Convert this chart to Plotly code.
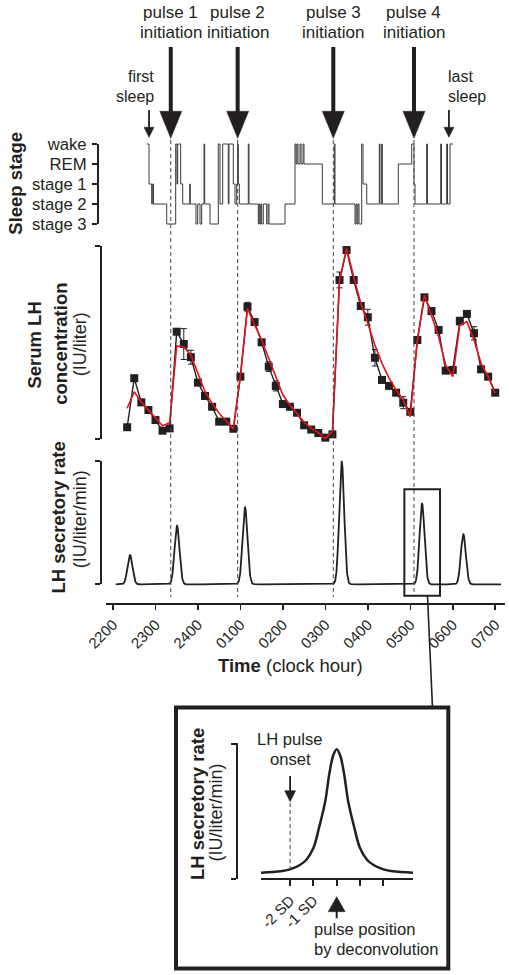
import numpy as np
import plotly.graph_objects as go

W, H = 509, 975
FONT = "Liberation Sans, Arial, Helvetica, sans-serif"
INK = "#231f20"

# ---------------- data ----------------
hour_ticks = [22, 23, 24, 25, 26, 27, 28, 29, 30, 31]
hour_labels = ["2200", "2300", "2400", "0100", "0200", "0300", "0400", "0500", "0600", "0700"]

stage_codes = [0, 1, 2, 3, 4]
stage_labels = ["stage 3", "stage 2", "stage 1", "REM", "wake"]

# hypnogram: clock hour (24+ = after midnight) at which each stage begins
sleep_time = [22.794, 22.848, 22.911, 22.935, 22.954, 23.264, 23.476, 23.506, 23.523, 23.594,
              23.641, 23.806, 23.820, 23.954, 23.994, 24.049, 24.089, 24.143, 24.159, 24.284,
              24.479, 24.519, 24.583, 24.715, 24.731, 24.833, 24.873, 24.913, 24.936, 24.950,
              24.974, 25.186, 25.202, 25.421, 25.440, 25.460, 25.480, 25.500, 25.539, 25.619,
              25.650, 25.673, 26.050, 26.285, 26.309, 26.332, 26.356, 26.403, 26.427, 26.474,
              26.497, 26.928, 27.211, 27.227, 27.698, 27.722, 27.746, 27.769, 27.793, 27.856,
              27.887, 27.974, 28.270, 28.287, 28.327, 28.341, 28.718, 29.033, 29.087, 29.111,
              29.386, 29.405, 29.716, 29.735, 29.857, 29.876, 29.935, 30.006]
sleep_stage = [4, 2, 1, 2, 1, 0, 4, 2, 4, 2,
               1, 2, 1, 0, 1, 0, 1, 4, 1, 0,
               4, 1, 4, 1, 4, 2, 1, 2, 4, 2,
               1, 4, 1, 0, 1, 0, 1, 0, 1, 0,
               1, 0, 1, 4, 3, 4, 3, 4, 3, 4,
               3, 1, 4, 1, 0, 1, 0, 1, 0, 4,
               2, 1, 4, 1, 4, 1, 3, 4, 2, 1,
               4, 1, 4, 1, 4, 1, 4, 4]

# serum LH samples: minutes after 2200
sample_min = [20, 30, 40, 50, 60, 70, 80, 90, 100, 110, 120, 130, 140, 150, 160, 170, 180,
              190, 200, 210, 220, 230, 240, 250, 260, 270, 280, 290, 300, 310, 320, 330, 340,
              350, 360, 370, 380, 390, 400, 410, 420, 430, 440, 450, 460, 470, 480, 490, 500,
              510, 520, 530, 540]
lh_conc = [0.61, 3.15, 1.90, 1.50, 0.98, 0.43, 0.55, 5.56, 4.92, 4.24,
           2.92, 2.23, 1.67, 0.90, 0.90, 0.53, 3.23, 6.85, 6.06, 5.01,
           3.75, 2.75, 1.81, 1.67, 1.36, 0.71, 0.49, 0.31, 0.07, 0.24,
           8.24, 9.79, 8.24, 6.89, 6.31, 4.21, 3.06, 2.75, 2.40, 1.88,
           1.41, 5.13, 7.34, 6.63, 5.65, 3.54, 3.58, 6.11, 6.48, 5.48,
           3.61, 3.23, 2.40]
lh_err = [0, 0, 0, 0, 0, 0, 0, 0, 0.8, 0.36,
          0, 0, 0, 0, 0, 0, 0, 0.23, 0, 0,
          0.25, 0.26, 0, 0, 0, 0, 0, 0, 0, 0,
          0.41, 0, 0, 0, 0.41, 0.43, 0, 0, 0, 0.31,
          0, 0, 0, 0, 0, 0, 0, 0.2, 0.15, 0.34,
          0, 0, 0]
lh_fit = [1.59, 2.45, 1.92, 1.50, 1.07, 0.69, 0.84, 4.82, 4.78, 4.35,
          3.40, 2.45, 1.85, 1.33, 0.93, 0.52, 3.30, 6.77, 5.91, 5.13,
          4.18, 3.23, 2.28, 1.76, 1.33, 0.87, 0.55, 0.33, 0.02, 0.38,
          8.20, 9.88, 8.41, 7.03, 5.99, 4.87, 3.92, 3.15, 2.54, 2.02,
          1.16, 5.13, 7.46, 6.42, 5.30, 3.83, 3.23, 5.91, 6.08, 5.13,
          3.92, 3.23, 2.37]

# deconvolved secretory pulses
sec_peak_time = [22.40, 23.507, 25.108, 27.385, 29.276, 30.249]
sec_peak_amp = [2.37, 4.74, 6.23, 9.92, 6.55, 4.05]
sec_peak_sd = [0.058, 0.058, 0.058, 0.058, 0.058, 0.058]
sec_span = [22.064, 31.136]

pulse_onset = [23.36, 24.935, 27.187, 29.087]
pulse_names = ["pulse 1", "pulse 2", "pulse 3", "pulse 4"]
first_sleep, last_sleep = 22.848, 29.91
zoom_window = [28.86, 29.70]

# inset: schematic pulse (x in SD units)
inset_u = [-3.3, -2.4, -2.0, -1.6, -1.3, -1.0, -0.75, -0.5, -0.3, -0.15, 0,
           0.15, 0.3, 0.5, 0.75, 1.0, 1.3, 1.6, 2.0, 2.4, 3.3]
inset_rate = [0, 0.011, 0.027, 0.06, 0.105, 0.2, 0.37, 0.57, 0.82, 0.95, 1.0,
              0.95, 0.82, 0.57, 0.37, 0.2, 0.105, 0.06, 0.027, 0.011, 0]
inset_ticks = [-2, -1, 0, 1, 2]
inset_tick_labels = ["-2 SD", "-1 SD", "", "", ""]

# ---------------- geometry helpers ----------------
def pyy(y):
    return 1 - y / H

def pxx(x):
    return x / W

def dom(top, bottom):
    return [1 - bottom / H, 1 - top / H]

X_DOM = (106, 505)
X_RNG = (21.835, 31.230)
PXH = (X_DOM[1] - X_DOM[0]) / (X_RNG[1] - X_RNG[0])
IX_DOM = (261, 413)
IX_PX = 23.3
IX_RNG = ((261 - 336.7) / IX_PX, (413 - 336.7) / IX_PX)

fig = go.Figure()

# hypnogram
fig.add_trace(go.Scatter(x=sleep_time, y=sleep_stage, mode="lines",
                         line=dict(color="#3a3a3a", width=1, shape="hv"),
                         xaxis="x", yaxis="y2", hoverinfo="skip", showlegend=False))
# LH concentration
lh_time = [22 + m / 60 for m in sample_min]
fig.add_trace(go.Scatter(x=lh_time, y=lh_conc, mode="lines+markers",
                         line=dict(color=INK, width=1.4),
                         marker=dict(symbol="square", size=8, color=INK),
                         error_y=dict(type="data", array=lh_err, color=INK, thickness=1, width=3),
                         xaxis="x", yaxis="y4", cliponaxis=False, hoverinfo="skip", showlegend=False))
fig.add_trace(go.Scatter(x=lh_time, y=lh_fit, mode="lines",
                         line=dict(color="#e3141b", width=1.6),
                         xaxis="x", yaxis="y4", hoverinfo="skip", showlegend=False))
# secretory rate
t = np.linspace(sec_span[0], sec_span[1], 2000)
rate = np.zeros_like(t)
for c, a, s in zip(sec_peak_time, sec_peak_amp, sec_peak_sd):
    rate += a * np.exp(-0.5 * ((t - c) / s) ** 2)
fig.add_trace(go.Scatter(x=t, y=rate, mode="lines", line=dict(color=INK, width=1.8),
                         xaxis="x", yaxis="y6", hoverinfo="skip", showlegend=False))
# inset curve
fig.add_trace(go.Scatter(x=inset_u, y=inset_rate, mode="lines",
                         line=dict(color=INK, width=2.5, shape="spline", smoothing=1.0),
                         xaxis="x2", yaxis="y8", hoverinfo="skip", showlegend=False))
# invisible anchors for bracket axes
for xa, ya in [("x", "y"), ("x", "y3"), ("x", "y5"), ("x2", "y7")]:
    fig.add_trace(go.Scatter(x=[X_RNG[0] + 0.5 if xa == "x" else 0], y=[0], mode="markers",
                             marker=dict(size=1, opacity=0), xaxis=xa, yaxis=ya,
                             hoverinfo="skip", showlegend=False))

bracket = dict(anchor="free", showline=True, linecolor=INK, linewidth=2, ticks="outside",
               ticklen=5, tickwidth=2, tickcolor=INK, showgrid=False, zeroline=False,
               fixedrange=True, automargin=False)
hidden = dict(visible=False, showgrid=False, zeroline=False, fixedrange=True, automargin=False)

layout = dict(
    template="none",
    width=W, height=H, autosize=False,
    margin=dict(l=0, r=0, t=0, b=0, pad=0),
    paper_bgcolor="white", plot_bgcolor="rgba(0,0,0,0)",
    font=dict(family=FONT, color=INK, size=16.6),
    showlegend=False, hovermode=False,
    xaxis=dict(domain=[pxx(X_DOM[0]), pxx(X_DOM[1])], range=list(X_RNG), anchor="free",
               position=pyy(604), showline=True, linecolor=INK, linewidth=2,
               ticks="outside", ticklen=5, tickwidth=1.5, tickcolor=INK,
               tickvals=hour_ticks, ticktext=hour_labels, tickangle=-45,
               tickfont=dict(size=15, color=INK), showgrid=False, zeroline=False,
               fixedrange=True, automargin=False),
    xaxis2=dict(domain=[pxx(IX_DOM[0]), pxx(IX_DOM[1])], range=list(IX_RNG), anchor="free",
                position=pyy(879), showline=True, linecolor=INK, linewidth=2,
                ticks="outside", ticklen=6, tickwidth=2, tickcolor=INK,
                tickvals=inset_ticks, ticktext=inset_tick_labels, tickangle=-45,
                tickfont=dict(size=15, color=INK), showgrid=False, zeroline=False,
                fixedrange=True, automargin=False),
    yaxis=dict(domain=dom(144, 224), range=[-0.01, 4.01], position=pxx(98),
               tickvals=stage_codes, ticktext=stage_labels,
               tickfont=dict(size=16.7, color=INK), ticklabelstandoff=2, **bracket),
    yaxis2=dict(domain=dom(124, 244), range=[-1, 5], anchor="x", **hidden),
    yaxis3=dict(domain=dom(246, 439), range=[-0.02, 10.02], position=pxx(101),
                tickvals=[0, 10], showticklabels=False, **bracket),
    yaxis4=dict(domain=dom(226, 459), range=[-20 / 19.3, 10 + 20 / 19.3], anchor="x", **hidden),
    yaxis5=dict(domain=dom(460.7, 584.3), range=[-0.02, 10.02], position=pxx(101),
                tickvals=[0, 10], showticklabels=False, **bracket),
    yaxis6=dict(domain=dom(448, 596), range=[-11.7 / 12.36, 10 + 12.7 / 12.36], anchor="x", **hidden),
    yaxis7=dict(domain=dom(743.3, 879), range=[-0.002, 1.002], position=pxx(236.7),
                tickvals=[0, 1], showticklabels=False, **bracket),
    yaxis8=dict(domain=dom(735, 885), range=[-12.3 / 123.4, 1 + 14.3 / 123.4], anchor="x2", **hidden),
)
fig.update_layout(**layout)

# ---------------- shapes ----------------
shapes = []

def line(x0, y0, x1, y1, width, xref="paper", dash=None, color=INK):
    d = dict(type="line", xref=xref, yref="paper", x0=x0, x1=x1, y0=y0, y1=y1,
             line=dict(color=color, width=width))
    if dash:
        d["line"]["dash"] = dash
    shapes.append(d)

def arrow(xc, y_tail, y_tip, head_len, head_w, shaft_w, xref="x", scale=PXH):
    """vertical arrow; y values in pixels, xc in the units of xref"""
    dx = head_w / 2 / scale
    sign = 1 if y_tip > y_tail else -1
    y_base = y_tip - sign * head_len
    line(xc, pyy(y_tail), xc, pyy(y_base + sign * 1), shaft_w, xref=xref)
    shapes.append(dict(type="path", xref=xref, yref="paper",
                       path=f"M {xc - dx},{pyy(y_base)} L {xc + dx},{pyy(y_base)} L {xc},{pyy(y_tip)} Z",
                       fillcolor=INK, line=dict(color=INK, width=0.5)))

for h in pulse_onset:
    line(h, pyy(140), h, pyy(597), 1, xref="x", dash="4px,3px", color="#444444")
    arrow(h, 47, 138.3, 27, 22, 4)

arrow(first_sleep, 110, 137.3, 10, 10, 1.8)
arrow(last_sleep, 110, 137.3, 10, 10, 1.8)

# zoom box around pulse and connector to inset
shapes.append(dict(type="rect", xref="x", yref="paper", x0=zoom_window[0], x1=zoom_window[1],
                   y0=pyy(595.7), y1=pyy(489.3), line=dict(color=INK, width=2)))
line(pxx(427.5), pyy(595.7), pxx(432.5), pyy(708), 1.6)
# inset frame
shapes.append(dict(type="rect", xref="paper", yref="paper", x0=pxx(176), x1=pxx(448.3),
                   y0=pyy(968.5), y1=pyy(707.5), line=dict(color=INK, width=4)))
# inset onset marker and arrows
line(-2, pyy(803), -2, pyy(872), 1, xref="x2", dash="4px,3px", color="#444444")
arrow(-2, 776, 801.7, 11, 11, 1.8, xref="x2", scale=IX_PX)
arrow(0, 918.3, 896.7, 15, 17, 2, xref="x2", scale=IX_PX)

fig.update_layout(shapes=shapes)

# ---------------- text ----------------
anns = []

def text(s, x, y, size=16.6, xanchor="center", angle=0, xref="paper"):
    anns.append(dict(text=s, x=x, y=pyy(y), xref=xref, yref="paper", xanchor=xanchor,
                     yanchor="middle", showarrow=False, textangle=angle,
                     font=dict(family=FONT, size=size, color=INK)))

for h, name in zip(pulse_onset, pulse_names):
    text(name, h, 12.3, size=17, xref="x")
    text("initiation", h, 32.4, size=17, xref="x")

text("first", pxx(155.7), 76.2, size=16, xanchor="right")
text("sleep", pxx(155.7), 96, size=16, xanchor="right")
text("last", pxx(446), 76.2, size=16, xanchor="left")
text("sleep", pxx(446), 96, size=16, xanchor="left")

text("<b>Sleep stage</b>", pxx(14.7), 183, size=18.5, angle=-90)
text("<b>Serum LH</b>", pxx(33.6), 345, size=18.5, angle=-90)
text("<b>concentration</b>", pxx(60.3), 343.5, size=18.5, angle=-90)
text("(IU/liter)", pxx(80.3), 344, size=18, angle=-90)
text("<b>LH secretory rate</b>", pxx(58), 517.5, size=18.5, angle=-90)
text("(IU/liter/min)", pxx(80.3), 519, size=18, angle=-90)
text("<b>Time</b> (clock hour)", pxx(290.5), 665.3, size=18.5)

text("<b>LH secretory rate</b>", pxx(197), 804, size=18.5, angle=-90)
text("(IU/liter/min)", pxx(215), 812.5, size=18, angle=-90)
text("LH pulse", pxx(290), 739.3)
text("onset", pxx(290), 759.3)
text("pulse position", pxx(311.7), 929.3, xanchor="left")
text("by deconvolution", pxx(311.7), 949.3, xanchor="left")

fig.update_layout(annotations=anns)

fig.write_html("out.html", config={"displayModeBar": False, "staticPlot": True},
               post_script="document.body.style.margin='0';document.body.style.overflow='hidden';")
